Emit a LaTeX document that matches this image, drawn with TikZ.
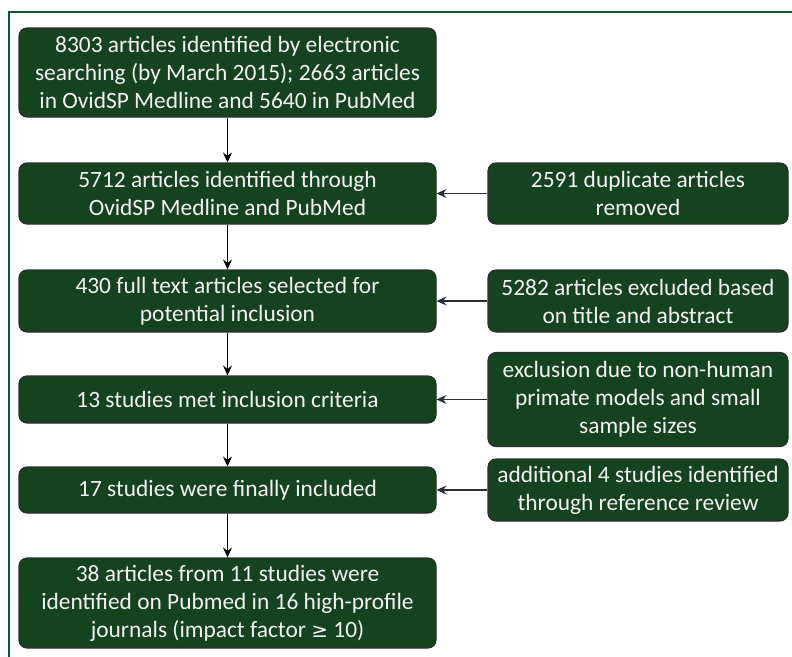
\documentclass[tikz,border=0pt]{standalone}
\usepackage{fontspec}
\setmainfont{Carlito}
\newfontfamily\symfont{DejaVu Sans}
\usetikzlibrary{arrows.meta}
\definecolor{framegreen}{RGB}{12,88,48}
\definecolor{boxgreen}{RGB}{21,66,31}
\definecolor{boxedge}{RGB}{45,45,45}
\definecolor{txt}{RGB}{242,242,242}
\tikzset{
  flowbox/.style={draw=boxedge, line width=1.1pt, fill=boxgreen, rounded corners=8pt,
    text=txt, align=center, inner sep=0pt, font=\fontsize{23.4}{28}\selectfont},
  leftbox/.style={flowbox, minimum width=417pt},
  rightbox/.style={flowbox, minimum width=300pt},
  flowarrow/.style={draw=black, line width=1.1pt, -{Stealth[length=10pt,width=9pt,inset=3.5pt]}},
  sidearrow/.style={draw=boxedge, line width=1.1pt, -{Stealth[length=10pt,width=9pt,inset=3.5pt]}}
}
\begin{document}
\begin{tikzpicture}[x=1pt,y=-1pt]
\useasboundingbox (0,0) rectangle (792,656);
\draw[framegreen, line width=2pt] (9,700) -- (9,12) -- (800,12);

\node[leftbox, minimum height=89pt] (b1) at (227.5,72.5) {8303 articles identified by electronic\\searching (by March 2015); 2663 articles\\in OvidSP Medline and 5640 in PubMed};
\node[leftbox, minimum height=61pt] (b2) at (227.5,193.5) {5712 articles identified through\\OvidSP Medline and PubMed};
\node[rightbox, minimum height=61pt] (r2) at (638,193.5) {2591 duplicate articles\\removed};
\node[leftbox, minimum height=62pt] (b3) at (227.5,301) {430 full text articles selected for\\potential inclusion};
\node[rightbox, minimum height=62pt] (r3) at (638,301) {5282 articles excluded based\\on title and abstract};
\node[leftbox, minimum height=47pt] (b4) at (227.5,399.5) {13 studies met inclusion criteria};
\node[rightbox, minimum height=94pt] (r4) at (638,399.5) {exclusion due to non-human\\primate models and small\\sample sizes};
\node[leftbox, minimum height=46pt] (b5) at (227.5,490) {17 studies were finally included};
\node[rightbox, minimum height=62pt] (r5) at (638,490) {additional 4 studies identified\\through reference review};
\node[leftbox, minimum height=90pt] (b6) at (227.5,603) {38 articles from 11 studies were\\identified on Pubmed in 16 high-profile\\journals (impact factor {\symfont\fontsize{20}{28}\selectfont ≥} 10)};

\draw[flowarrow] (b1) -- (b2);
\draw[flowarrow] (b2) -- (b3);
\draw[flowarrow] (b3) -- (b4);
\draw[flowarrow] (b4) -- (b5);
\draw[flowarrow] (b5) -- (b6);
\draw[sidearrow] (r2) -- (b2);
\draw[sidearrow] (r3) -- (b3);
\draw[sidearrow] (r4.west) -- (b4.east);
\draw[sidearrow] (r5) -- (b5);
\end{tikzpicture}
\end{document}
